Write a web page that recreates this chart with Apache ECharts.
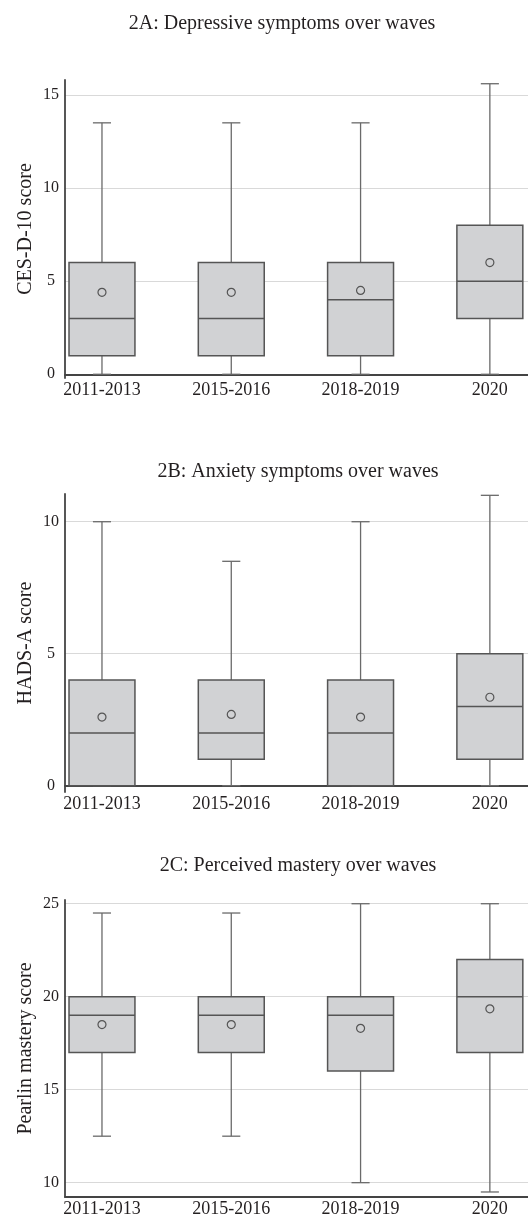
<!DOCTYPE html>
<html>
<head>
<meta charset="utf-8">
<style>
  html, body { margin: 0; padding: 0; background: #fff; }
  #chart { width: 528px; height: 1218px; }
</style>
<script src="https://cdn.jsdelivr.net/npm/echarts@6/dist/echarts.min.js"></script>
</head>
<body>
<div id="chart"></div>
<script>
// Survey waves shown on every panel
const waves = ['2011-2013', '2015-2016', '2018-2019', '2020'];

// Box summaries per wave: [lower whisker, Q1, median, Q3, upper whisker]
const depressionBoxes = [
  [0, 1, 3, 6, 13.5],
  [0, 1, 3, 6, 13.5],
  [0, 1, 4, 6, 13.5],
  [0, 3, 5, 8, 15.6]
];
const depressionMeans = [4.4, 4.4, 4.5, 6.0];

const anxietyBoxes = [
  [0, 0, 2, 4, 10],
  [0, 1, 2, 4, 8.5],
  [0, 0, 2, 4, 10],
  [0, 1, 3, 5, 11]
];
const anxietyMeans = [2.6, 2.7, 2.6, 3.35];

const masteryBoxes = [
  [12.5, 17, 19, 20, 24.5],
  [12.5, 17, 19, 20, 24.5],
  [10, 16, 19, 20, 25],
  [9.5, 17, 20, 22, 25]
];
const masteryMeans = [18.5, 18.5, 18.3, 19.35];

const panelTitles = [
  '2A: Depressive symptoms over waves',
  '2B: Anxiety symptoms over waves',
  '2C: Perceived mastery over waves'
];
const axisNames = ['CES-D-10 score', 'HADS-A score', 'Pearlin mastery score'];

const FONT = "'Liberation Serif', 'Times New Roman', serif";
const INK = '#231f20';
const BOX_FILL = '#d1d2d4';
const BOX_EDGE = '#555555';
const WHISKER = '#6a6a6a';
const AXIS = '#444444';

const panels = [
  { boxes: depressionBoxes, means: depressionMeans, top: 80, height: 298, yMin: -0.2, yMax: 15.8, titleX: 282, titleY: 14 },
  { boxes: anxietyBoxes, means: anxietyMeans, top: 494, height: 298, yMin: -0.24, yMax: 11.05, titleX: 298, titleY: 462 },
  { boxes: masteryBoxes, means: masteryMeans, top: 900, height: 298, yMin: 9.23, yMax: 25.2, titleX: 298, titleY: 856 }
];

// Draws one box with whiskers and caps from the axis scales
function renderBox(params, api) {
  const x = api.value(0);
  const lo = api.coord([x, api.value(1)]);
  const q1 = api.coord([x, api.value(2)]);
  const md = api.coord([x, api.value(3)]);
  const q3 = api.coord([x, api.value(4)]);
  const hi = api.coord([x, api.value(5)]);
  const boxW = api.size([0.51, 0])[0];
  const capW = api.size([0.14, 0])[0];
  const cx = lo[0];
  const whiskerStyle = { stroke: WHISKER, lineWidth: 1.3, fill: null };
  const edgeStyle = { stroke: BOX_EDGE, lineWidth: 1.5, fill: null };
  return {
    type: 'group',
    children: [
      { type: 'line', shape: { x1: cx, y1: lo[1], x2: cx, y2: q1[1] }, style: whiskerStyle },
      { type: 'line', shape: { x1: cx, y1: q3[1], x2: cx, y2: hi[1] }, style: whiskerStyle },
      { type: 'line', shape: { x1: cx - capW / 2, y1: lo[1], x2: cx + capW / 2, y2: lo[1] }, style: whiskerStyle },
      { type: 'line', shape: { x1: cx - capW / 2, y1: hi[1], x2: cx + capW / 2, y2: hi[1] }, style: whiskerStyle },
      { type: 'rect', shape: { x: cx - boxW / 2, y: q3[1], width: boxW, height: q1[1] - q3[1] },
        style: { fill: BOX_FILL, stroke: BOX_EDGE, lineWidth: 1.5 } },
      { type: 'line', shape: { x1: cx - boxW / 2, y1: md[1], x2: cx + boxW / 2, y2: md[1] }, style: edgeStyle }
    ]
  };
}

const option = {
  backgroundColor: '#ffffff',
  animation: false,
  title: [],
  grid: [],
  xAxis: [],
  yAxis: [],
  series: []
};

panels.forEach(function (p, i) {
  option.title.push({
    text: panelTitles[i],
    left: p.titleX,
    top: p.titleY,
    textAlign: 'center',
    padding: 0,
    textStyle: { fontFamily: FONT, fontSize: 20, fontWeight: 'normal', color: INK }
  });
  option.grid.push({ left: 65, right: 0, top: p.top, height: p.height, containLabel: false });
  option.xAxis.push({
    type: 'value',
    gridIndex: i,
    min: 0.714,
    max: 4.295,
    axisLine: { show: true, lineStyle: { color: AXIS, width: 1.8 } },
    axisTick: { show: false },
    splitLine: { show: false },
    axisLabel: {
      customValues: [1, 2, 3, 4],
      formatter: function (v) { return waves[Math.round(v) - 1]; },
      fontFamily: FONT, fontSize: 18, color: INK, margin: 3
    }
  });
  option.yAxis.push({
    type: 'value',
    gridIndex: i,
    min: p.yMin,
    max: p.yMax,
    minInterval: 5,
    maxInterval: 5,
    name: axisNames[i],
    nameLocation: 'middle',
    nameGap: 29,
    nameMoveOverlap: false,
    nameTextStyle: { fontFamily: FONT, fontSize: 20, color: INK },
    axisLine: { show: true, lineStyle: { color: AXIS, width: 1.8 } },
    axisTick: { show: false },
    splitLine: { show: true, showMinLine: false, showMaxLine: false, lineStyle: { color: '#d9d9d9', width: 1 } },
    axisLabel: {
      showMinLabel: false, showMaxLabel: false,
      fontFamily: FONT, fontSize: 16, color: INK, align: 'center', margin: 14
    }
  });
  option.series.push({
    type: 'custom',
    xAxisIndex: i,
    yAxisIndex: i,
    renderItem: renderBox,
    encode: { x: 0, y: [1, 2, 3, 4, 5] },
    data: p.boxes.map(function (b, k) { return [k + 1].concat(b); }),
    z: 2
  });
  option.series.push({
    type: 'scatter',
    xAxisIndex: i,
    yAxisIndex: i,
    symbol: 'circle',
    symbolSize: 8,
    itemStyle: { color: BOX_FILL, borderColor: BOX_EDGE, borderWidth: 1.2, opacity: 1 },
    data: p.means.map(function (m, k) { return [k + 1, m]; }),
    z: 3
  });
});

const chart = echarts.init(document.getElementById('chart'), null, { renderer: 'canvas' });
chart.setOption(option);
</script>
</body>
</html>
